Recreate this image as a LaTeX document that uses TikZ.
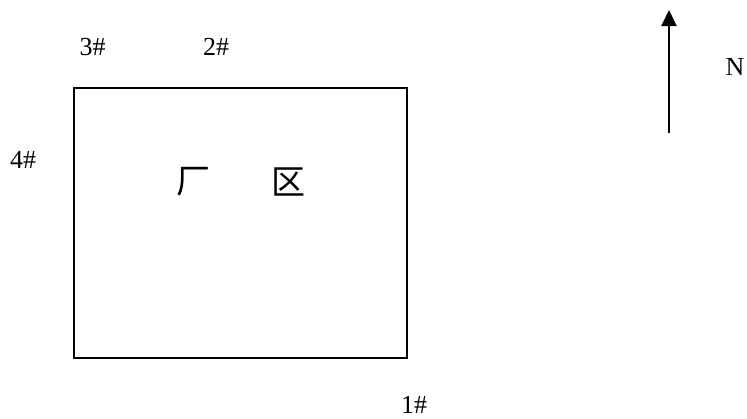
\documentclass[tikz,border=0pt]{standalone}
\usepackage{fontspec}
\setmainfont{Liberation Serif}
\newfontfamily\cjk{Noto Sans CJK SC}
\usetikzlibrary{arrows.meta}
\begin{document}
\begin{tikzpicture}[x=1pt,y=-1pt,
  lbl/.style={font=\fontsize{26}{26}\selectfont, inner sep=0pt, anchor=base},
  cjklbl/.style={font=\cjk\fontsize{34}{34}\selectfont, inner sep=0pt, anchor=center},
  border/.style={draw=black, line width=1.8pt}]
\useasboundingbox (0,0) rectangle (747,418);
\node[border, minimum width=333pt, minimum height=270pt, inner sep=0pt] (plant) at (240.5,223) {};
\node[cjklbl] (c1) at (193,182) {厂};
\node[cjklbl] (c2) at (288,182) {区};
\node[lbl] (p3) at (92.5,55) {3\#};
\node[lbl] (p2) at (216,55) {2\#};
\node[lbl] (p4) at (23,168) {4\#};
\node[lbl] (p1) at (414,413) {1\#};
\node[lbl] (n) at (735,75) {N};
\coordinate (ntail) at (669,133);
\coordinate (nhead) at (669,10);
\draw[line width=2pt, -{Triangle[width=15pt,length=16pt]}] (ntail) -- (nhead);
\end{tikzpicture}
\end{document}
